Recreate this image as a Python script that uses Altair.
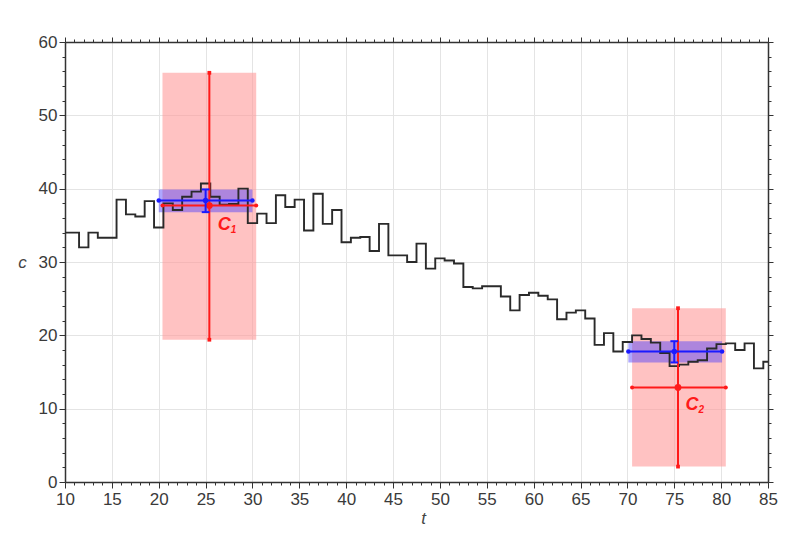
import altair as alt
import pandas as pd

# ---- step series (value at each integer t, drawn as mid-point steps) ----
t_vals = list(range(10, 86))
c_vals = [
    34.0, 34.0, 32.0, 34.0, 33.3, 33.3, 38.5, 36.5, 36.2, 38.3,   # 10-19
    34.7, 38.0, 37.1, 38.9, 39.6, 40.7, 38.9, 37.8, 37.9, 40.0,   # 20-29
    35.3, 36.6, 35.3, 39.1, 37.5, 38.5, 34.3, 39.3, 35.2, 37.1,   # 30-39
    32.7, 33.3, 33.4, 31.5, 35.2, 30.9, 30.9, 30.0, 32.5, 29.1,   # 40-49
    30.5, 30.2, 29.8, 26.6, 26.4, 26.7, 26.7, 25.3, 23.4, 25.5,   # 50-59
    25.8, 25.4, 24.9, 22.2, 23.1, 23.4, 22.3, 18.7, 20.3, 17.8,   # 60-69
    19.1, 20.0, 19.5, 19.0, 17.6, 15.8, 16.0, 16.4, 16.6, 18.2,   # 70-79
    18.8, 18.9, 18.0, 18.9, 15.5, 16.4,                           # 80-85
]

# ---- clusters ----
clusters = ["1", "2"]
red_t = [25.4, 75.4]
red_c = [37.7, 12.9]
red_t_lo = [20.4, 70.5]
red_t_hi = [30.4, 80.5]
red_c_lo = [19.4, 2.1]
red_c_hi = [55.8, 23.7]

blue_t = [25.0, 75.0]
blue_c = [38.4, 17.8]
blue_t_lo = [20.0, 70.1]
blue_t_hi = [30.0, 80.1]
blue_c_lo = [36.8, 16.3]
blue_c_hi = [39.9, 19.2]

label_t = [26.3, 76.2]
label_c = [35.0, 10.5]

x_ticks = list(range(10, 86))
y_ticks = list(range(0, 61, 2))

RED = "#ff1a1a"
BLUE = "#1a1aff"
FONT = "Liberation Sans"

series = pd.DataFrame({"t": t_vals, "c": c_vals})
red = pd.DataFrame({"k": clusters, "t": red_t, "c": red_c, "tlo": red_t_lo,
                    "thi": red_t_hi, "clo": red_c_lo, "chi": red_c_hi})
blue = pd.DataFrame({"k": clusters, "t": blue_t, "c": blue_c, "tlo": blue_t_lo,
                     "thi": blue_t_hi, "clo": blue_c_lo, "chi": blue_c_hi})
labels = pd.DataFrame({"k": clusters, "t": label_t, "c": label_c})

xs = alt.Scale(domain=[10, 85], nice=False, zero=False)
ys = alt.Scale(domain=[0, 60], nice=False, zero=False)

major_x = "datum.value % 5 === 0"
major_y = "datum.value % 10 === 0"

x_axis = alt.Axis(
    values=x_ticks, title="t", titleFontStyle="italic", titleFont=FONT,
    titleFontSize=17, titleFontWeight="normal", titleColor="#444",
    titleX=358, titleY=36, titleBaseline="middle",
    labelExpr=f"{major_x} ? datum.label : ''", labelOverlap=False,
    labelFlush=False, labelFont=FONT, labelFontSize=17, labelColor="#3a3a3a",
    labelPadding=3,
    tickSize={"condition": {"test": major_x, "value": 6}, "value": 3},
    tickColor="#333", domainColor="#333", domainWidth=1.5,
    grid=True, gridColor="#e4e4e4",
    gridOpacity={"condition": {"test": major_x, "value": 1}, "value": 0},
)
y_axis = alt.Axis(
    values=y_ticks, title="c", titleFontStyle="italic", titleFont=FONT,
    titleFontSize=17, titleFontWeight="normal", titleColor="#444",
    titleAngle=0, titleX=-43, titleY=220, titleAlign="center",
    titleBaseline="middle",
    labelExpr=f"{major_y} ? datum.label : ''", labelOverlap=False,
    labelFlush=False, labelFont=FONT, labelFontSize=17, labelColor="#3a3a3a",
    labelPadding=2,
    tickSize={"condition": {"test": major_y, "value": 6}, "value": 3},
    tickColor="#333", domainColor="#333", domainWidth=1.5,
    grid=True, gridColor="#e4e4e4",
    gridOpacity={"condition": {"test": major_y, "value": 1}, "value": 0},
)
x_top = alt.Axis(orient="top", values=x_ticks, labels=False, title=None,
                 grid=False, tickColor="#333", domainColor="#333",
                 domainWidth=1.5,
                 tickSize={"condition": {"test": major_x, "value": 5}, "value": 3})
y_right = alt.Axis(orient="right", values=y_ticks, labels=False, title=None,
                   grid=False, tickColor="#333", domainColor="#333",
                   domainWidth=1.5,
                   tickSize={"condition": {"test": major_y, "value": 5}, "value": 3})

red_rect = alt.Chart(red).mark_rect(color="#ff9a9a", opacity=0.6).encode(
    x=alt.X("tlo:Q", scale=xs, axis=None), x2="thi:Q",
    y=alt.Y("clo:Q", scale=ys, axis=None), y2="chi:Q")

blue_rect = alt.Chart(blue).mark_rect(color="#4a3cff", opacity=0.45).encode(
    x=alt.X("tlo:Q", scale=xs, axis=None), x2="thi:Q",
    y=alt.Y("clo:Q", scale=ys, axis=None), y2="chi:Q")

line = alt.Chart(series).mark_line(interpolate="step", color="#2a2a2a",
                                   strokeWidth=1.9).encode(
    x=alt.X("t:Q", scale=xs, axis=x_axis),
    y=alt.Y("c:Q", scale=ys, axis=y_axis))

red_v = alt.Chart(red).mark_rule(color=RED, strokeWidth=2).encode(
    x=alt.X("t:Q", scale=xs, axis=None),
    y=alt.Y("clo:Q", scale=ys, axis=None), y2="chi:Q")
red_h = alt.Chart(red).mark_rule(color=RED, strokeWidth=2).encode(
    x=alt.X("tlo:Q", scale=xs, axis=None), x2="thi:Q",
    y=alt.Y("c:Q", scale=ys, axis=None))
red_ends_v = alt.Chart(red).transform_fold(["clo", "chi"], as_=["end", "cv"]).mark_point(
    shape="square", filled=True, color=RED, size=14, opacity=1).encode(
    x=alt.X("t:Q", scale=xs, axis=None),
    y=alt.Y("cv:Q", scale=ys, axis=None))
red_ends_h = alt.Chart(red).transform_fold(["tlo", "thi"], as_=["end", "tv"]).mark_point(
    shape="circle", filled=True, color=RED, size=16, opacity=1).encode(
    x=alt.X("tv:Q", scale=xs, axis=None),
    y=alt.Y("c:Q", scale=ys, axis=None))
red_center = alt.Chart(red).mark_point(shape="circle", filled=True, color=RED,
                                       size=45, opacity=1).encode(
    x=alt.X("t:Q", scale=xs, axis=None),
    y=alt.Y("c:Q", scale=ys, axis=None))

blue_h = alt.Chart(blue).mark_rule(color=BLUE, strokeWidth=2).encode(
    x=alt.X("tlo:Q", scale=xs, axis=None), x2="thi:Q",
    y=alt.Y("c:Q", scale=ys, axis=None))
blue_v = alt.Chart(blue).mark_rule(color=BLUE, strokeWidth=2).encode(
    x=alt.X("t:Q", scale=xs, axis=None),
    y=alt.Y("clo:Q", scale=ys, axis=None), y2="chi:Q")
blue_caps = alt.Chart(blue).transform_fold(["clo", "chi"], as_=["end", "cv"]).mark_point(
    shape="stroke", color=BLUE, strokeWidth=2, size=60, opacity=1).encode(
    x=alt.X("t:Q", scale=xs, axis=None),
    y=alt.Y("cv:Q", scale=ys, axis=None))
blue_ends_h = alt.Chart(blue).transform_fold(["tlo", "thi"], as_=["end", "tv"]).mark_point(
    shape="circle", filled=True, color=BLUE, size=20, opacity=1).encode(
    x=alt.X("tv:Q", scale=xs, axis=None),
    y=alt.Y("c:Q", scale=ys, axis=None))
blue_center = alt.Chart(blue).mark_point(shape="circle", filled=True, color=BLUE,
                                         size=30, opacity=1).encode(
    x=alt.X("t:Q", scale=xs, axis=None),
    y=alt.Y("c:Q", scale=ys, axis=None))

lab_c = alt.Chart(labels).transform_calculate(txt="'C'").mark_text(
    color=RED, font=FONT, fontSize=18, fontStyle="italic", fontWeight="bold",
    align="left", baseline="middle").encode(
    x=alt.X("t:Q", scale=xs, axis=None),
    y=alt.Y("c:Q", scale=ys, axis=None), text="txt:N")
lab_sub = alt.Chart(labels).mark_text(
    color=RED, font=FONT, fontSize=10, fontStyle="italic", fontWeight="bold",
    align="left", baseline="middle", dx=13, dy=5).encode(
    x=alt.X("t:Q", scale=xs, axis=None),
    y=alt.Y("c:Q", scale=ys, axis=None), text="k:N")

boxes = alt.layer(red_rect, blue_rect)
bars = alt.layer(red_v, red_h, red_ends_v, red_ends_h, red_center, blue_h,
                 blue_v, blue_caps, blue_ends_h, blue_center, lab_c, lab_sub)

frame = alt.Chart(series).mark_point(opacity=0).encode(
    x=alt.X("t:Q", scale=xs, axis=x_top),
    y=alt.Y("c:Q", scale=ys, axis=y_right))

chart = alt.layer(boxes, line, bars, frame).resolve_axis(
    x="independent", y="independent"
).properties(
    width=703, height=440,
    autosize=alt.AutoSizeParams(type="none"),
    padding={"left": 57, "top": 34, "right": 12, "bottom": 44},
).configure_view(stroke=None).configure(background="white")

chart.save("out.html", embed_options={"renderer": "svg", "actions": False})
